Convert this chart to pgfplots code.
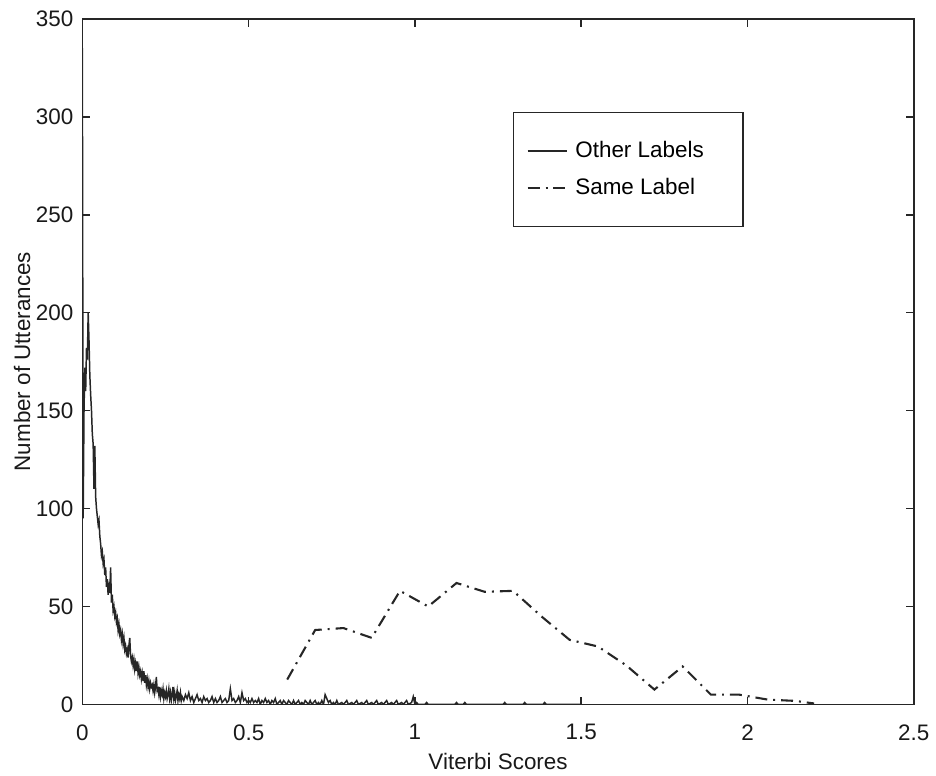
\documentclass[border=0pt]{standalone}
\usepackage{pgfplots}
\pgfplotsset{compat=1.18}
\usepackage{fontspec}
\setmainfont{Liberation Sans}
\begin{document}
\begin{tikzpicture}
\begin{axis}[
  at={(0,0)}, anchor=south west,
  scale only axis,
  width=419pt, height=345.5pt,
  xmin=0, xmax=2.5, ymin=0, ymax=350,
  xtick={0,0.5,1,1.5,2,2.5},
  xticklabels={0,0.5,1,1.5,2,2.5},
  ytick={0,50,100,150,200,250,300,350},
  /pgf/number format/assume math mode=true,
  tick pos=both, tick align=inside,
  major tick length=4pt,
  every tick/.style={black!85, line width=0.8pt},
  axis line style={black!85, line width=0.8pt},
  tick label style={font=\fontsize{11.3}{13}\selectfont, black!90},
  label style={font=\fontsize{11.3}{13}\selectfont, black!90},
  xlabel={Viterbi Scores},
  ylabel={Number of Utterances},
  xticklabel style={yshift=-6.5pt},
  yticklabel style={xshift=-1pt},
  xlabel style={yshift=0.5pt},
  ylabel style={yshift=-4pt},
  legend style={at={(0.518,0.864)}, anchor=north west, draw=black!85, line width=0.7pt,
    inner xsep=6.5pt, inner ysep=12.5pt, row sep=5pt,
    font=\fontsize{11.3}{13}\selectfont, cells={anchor=west}},
  legend image code/.code={\draw[#1] (0pt,0pt) -- (20pt,0pt);},
]
\addplot[black!85, line width=0.75pt] coordinates {
(0.0000,335) (0.0025,95) (0.0050,150) (0.0075,172) (0.0100,160) (0.0125,182) (0.0150,176) (0.0175,200)
(0.0200,186) (0.0225,168) (0.0250,158) (0.0275,150) (0.0300,138) (0.0325,133) (0.0350,110) (0.0375,132)
(0.0400,106) (0.0425,100) (0.0450,96) (0.0475,92) (0.0500,94) (0.0525,86) (0.0550,82) (0.0575,76)
(0.0600,78) (0.0625,72) (0.0650,74) (0.0675,66) (0.0700,70) (0.0725,60) (0.0750,64) (0.0775,56)
(0.0800,60) (0.0825,57) (0.0850,70) (0.0875,52) (0.0900,56) (0.0925,48) (0.0950,50) (0.0975,45)
(0.1000,47) (0.1025,42) (0.1050,44) (0.1075,38) (0.1100,41) (0.1125,36) (0.1150,38) (0.1175,33)
(0.1200,36) (0.1225,31) (0.1250,34) (0.1275,28) (0.1300,30) (0.1325,26) (0.1350,28) (0.1375,24)
(0.1400,30) (0.1425,34) (0.1450,25) (0.1475,22) (0.1500,24) (0.1525,20) (0.1550,23) (0.1575,18)
(0.1600,21) (0.1625,17) (0.1650,22) (0.1675,16) (0.1700,19) (0.1725,15) (0.1750,17) (0.1775,13)
(0.1800,16) (0.1825,12) (0.1850,17) (0.1875,11) (0.1900,15) (0.1925,10) (0.1950,13) (0.1975,9)
(0.2000,12) (0.2025,8) (0.2050,11) (0.2075,9) (0.2100,10) (0.2125,7) (0.2150,10) (0.2175,6)
(0.2200,9) (0.2225,14) (0.2250,7) (0.2275,8) (0.2300,5) (0.2325,9) (0.2350,4) (0.2375,7)
(0.2400,5) (0.2425,8) (0.2450,3) (0.2475,6) (0.2500,4) (0.2525,7) (0.2550,3) (0.2575,5)
(0.2600,8) (0.2625,3) (0.2650,6) (0.2675,2) (0.2700,5) (0.2725,9) (0.2750,3) (0.2775,6)
(0.2800,2) (0.2825,4) (0.2850,7) (0.2875,2) (0.2900,5) (0.2925,3) (0.2950,6) (0.2975,2)
(0.3000,4) (0.305,2) (0.31,5) (0.315,3) (0.32,6) (0.325,2) (0.33,4) (0.335,1) (0.34,3) (0.345,5)
(0.35,2) (0.355,3) (0.36,1) (0.365,4) (0.37,2) (0.375,3) (0.38,1) (0.385,2) (0.39,4) (0.395,1)
(0.40,3) (0.405,1) (0.41,2) (0.415,4) (0.42,1) (0.425,2) (0.43,3) (0.435,1) (0.44,2) (0.445,8)
(0.45,2) (0.455,3) (0.46,1) (0.465,2) (0.47,4) (0.475,1) (0.48,6) (0.485,2) (0.49,3) (0.495,1)
(0.50,2) (0.505,1) (0.51,3) (0.515,1) (0.52,2) (0.525,1) (0.53,3) (0.535,0) (0.54,2) (0.545,1)
(0.55,3) (0.555,1) (0.56,2) (0.565,0) (0.57,2) (0.575,1) (0.58,3) (0.585,0) (0.59,1) (0.595,2)
(0.60,0) (0.605,2) (0.61,1) (0.615,0) (0.62,2) (0.625,1) (0.63,0) (0.635,2) (0.64,0) (0.645,1)
(0.65,2) (0.655,0) (0.66,1) (0.665,0) (0.67,2) (0.675,1) (0.68,0) (0.685,2) (0.69,0) (0.695,1)
(0.70,2) (0.705,0) (0.71,1) (0.715,0) (0.72,2) (0.725,0) (0.73,5) (0.735,3) (0.74,1) (0.745,2)
(0.75,0) (0.755,1) (0.76,0) (0.765,2) (0.77,0) (0.78,1) (0.785,0) (0.795,2) (0.80,0) (0.81,1)
(0.815,0) (0.825,2) (0.83,0) (0.84,1) (0.845,0) (0.855,2) (0.86,0) (0.87,1) (0.875,0) (0.885,2)
(0.89,0) (0.90,1) (0.905,0) (0.915,2) (0.92,0) (0.93,1) (0.935,0) (0.945,2) (0.95,0) (0.96,1)
(0.965,0) (0.975,2) (0.98,0) (0.99,1) (0.995,4) (1.0,0) (1.005,1) (1.01,0) (1.03,0) (1.035,1)
(1.04,0) (1.12,0) (1.125,1) (1.13,0) (1.145,0) (1.15,1) (1.155,0) (1.265,0) (1.27,1) (1.275,0)
(1.325,0) (1.33,1) (1.335,0) (1.385,0) (1.39,1) (1.395,0) (1.5,0)
};
\addlegendentry{\hspace{1.5pt}\makebox[76pt][l]{Other Labels}}
\addplot[black!85, line width=1.05pt, dash pattern=on 6pt off 3pt on 1pt off 3pt] coordinates {
(0.616,12.7) (0.700,38) (0.785,39) (0.870,34) (0.955,58) (1.040,50) (1.125,62) (1.210,57.5)
(1.295,58) (1.380,45) (1.465,33) (1.550,29.6) (1.635,20) (1.720,7.6) (1.805,19.4) (1.890,5)
(1.975,5) (2.060,2.5) (2.145,1.8) (2.200,0.5)
};
\addlegendentry{\hspace{1.5pt}\makebox[76pt][l]{Same Label}}
\end{axis}
\useasboundingbox (-41.5pt,-30.5pt) rectangle (426.5pt,355pt);
\end{tikzpicture}
\end{document}
